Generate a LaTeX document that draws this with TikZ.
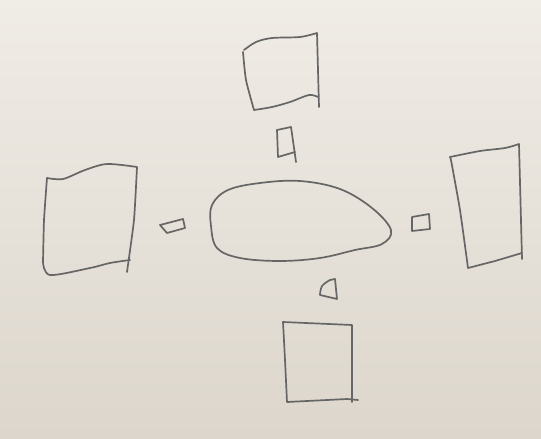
\documentclass[tikz,border=0pt]{standalone}
\usepackage{tikz}

\begin{document}
\begin{tikzpicture}[x=1pt,y=-1pt,
    pencil/.style={draw=black!60,line width=1.7pt,line join=round,line cap=round}]
            \useasboundingbox (0,0) rectangle (541,439);
            \shade[shading angle=-30,top color={rgb,255:red,240;green,236;blue,230},bottom color={rgb,255:red,220;green,214;blue,204}] (0,0) rectangle (541,439);
            \draw[pencil] plot[smooth,tension=0.5] coordinates {(244,50) (256,42) (272,38) (300,37) (317,33)} -- (319,107);
            \draw[pencil] (318,97) -- plot[smooth,tension=0.5] coordinates {(318,97) (309,95) (290,102) (272,107) (254,110)} -- plot[smooth,tension=0.4] coordinates {(254,110) (246,80) (243,52)};
            \draw[pencil] (277,130) -- (291,127) -- (296,162);
            \draw[pencil] (295,152) -- (278,157) -- (277,130);
            \draw[pencil] plot[smooth,tension=0.5] coordinates {(47,178) (63,179) (85,170) (107,164) (137,167)} -- plot[smooth,tension=0.3] coordinates {(137,167) (134,220) (127,272)};
            \draw[pencil] plot[smooth,tension=0.5] coordinates {(130,260) (110,263) (90,268) (50,275) (43,262)} -- plot[smooth,tension=0.3] coordinates {(43,262) (44,220) (47,178)};
            \draw[pencil] (160,225) -- (183,219) -- (185,228) -- (167,233) -- cycle;
            \draw[pencil] plot[smooth cycle,tension=0.6] coordinates {(212,205) (228,190) (260,183) (300,181) (340,189) (372,208) (391,230) (382,244) (355,250) (320,258) (280,261) (240,258) (217,248) (211,226)};
            \draw[pencil] (412,217) -- (429,214) -- (430,229) -- (412,231) -- cycle;
            \draw[pencil] plot[smooth,tension=0.5] coordinates {(450,157) (480,151) (505,148) (519,144)} -- (522,259);
            \draw[pencil] (522,253) -- (495,261) -- (468,268) -- plot[smooth,tension=0.3] coordinates {(468,268) (460,210) (451,160)} -- (450,157);
            \draw[pencil] (337,299) -- (335,279) -- (330,280) -- plot[smooth,tension=0.6] coordinates {(330,280) (322,286) (320,295)} -- (337,299);
            \draw[pencil] (283,322) -- (352,325) -- (352,402);
            \draw[pencil] (283,322) -- plot[smooth,tension=0.3] coordinates {(283,322) (285,360) (287,402)} -- (347,399) -- (358,400);
        \end{tikzpicture}
\end{document}
